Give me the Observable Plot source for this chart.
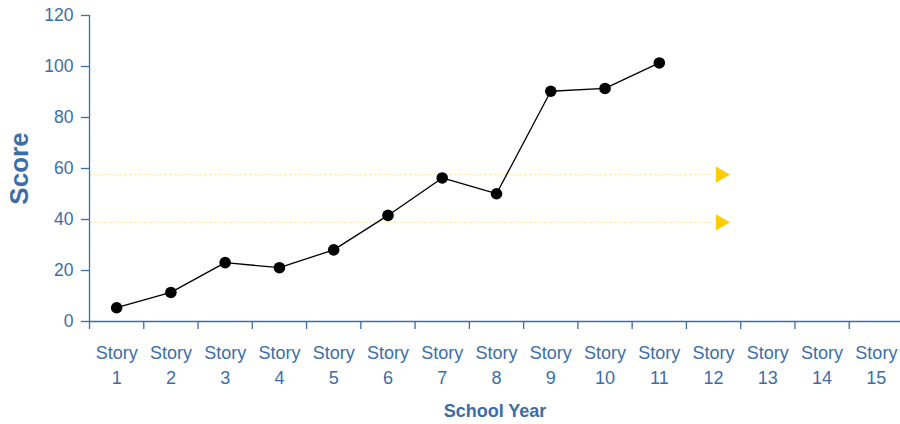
<!DOCTYPE html>
<html>
<head>
<meta charset="utf-8">
<script src="https://cdn.jsdelivr.net/npm/d3@7"></script>
<script src="https://cdn.jsdelivr.net/npm/@observablehq/plot@0.6"></script>
<style>
  html, body { margin: 0; padding: 0; background: #fff; }
  #chart svg { display: block; }
</style>
</head>
<body>
<div id="chart"></div>
<script>
const categories = ["Story 1","Story 2","Story 3","Story 4","Story 5","Story 6","Story 7","Story 8","Story 9","Story 10","Story 11","Story 12","Story 13","Story 14","Story 15"];
const scores = [5.4, 11.4, 23.1, 21.1, 28.1, 41.6, 56.3, 50.1, 90.3, 91.4, 101.4];
const targets = [57.6, 38.9];
const targetStory = 12;
const yTicks = [0, 20, 40, 60, 80, 100, 120];

const blue = "#3b6ea8";
const pts = scores.map((v, i) => ({x: i + 1, y: v}));
const tg = targets.map(v => ({y: v}));
const bandEdges = d3.range(0, categories.length).map(i => i + 0.5);
const centers = categories.map((c, i) => i + 1);

const chart = Plot.plot({
  width: 900,
  height: 424,
  marginLeft: 89,
  marginRight: 0,
  marginTop: 15,
  marginBottom: 103,
  style: {fontFamily: "'Liberation Sans', Arial, sans-serif", background: "#fff"},
  x: {type: "linear", domain: [0.5, categories.length + 0.5], range: [89, 903]},
  y: {type: "linear", domain: [0, 120]},
  marks: [
    Plot.ruleY(tg, {y: "y", x1: 0.5, x2: targetStory, stroke: "#fff0b0", strokeWidth: 1.2, strokeDasharray: "3,2"}),
    Plot.dot(tg, {x: targetStory, y: "y", dx: 7, symbol: "triangle", r: 6, rotate: 90, fill: "#ffcc00", stroke: "none"}),
    Plot.axisY({ticks: yTicks, tickSize: 8, tickPadding: 8, fontSize: 17.5, color: blue, stroke: blue, strokeWidth: 1.3, label: null}),
    Plot.ruleX([0.5], {y1: 0, y2: 120, stroke: blue, strokeWidth: 1.3}),
    Plot.ruleY([0], {stroke: blue, strokeWidth: 1.3}),
    Plot.axisX({ticks: bandEdges, tickSize: 8, tickFormat: () => "", stroke: blue, strokeWidth: 1.3, label: null}),
    Plot.axisX({ticks: centers, tickSize: 0, tickPadding: 19.5, tickFormat: d => categories[d - 1].replace(" ", "\n"), fontSize: 18, lineHeight: 1.4, color: blue, label: null}),
    Plot.line(pts, {x: "x", y: "y", stroke: "#000", strokeWidth: 1.3}),
    Plot.dot(pts, {x: "x", y: "y", r: 5.8, fill: "#000", stroke: "none"}),
    Plot.text(["Score"], {frameAnchor: "left", textAnchor: "middle", lineAnchor: "middle", dx: -70, rotate: -90, fontSize: 26, fontWeight: "bold", fill: blue}),
    Plot.text(["School Year"], {frameAnchor: "bottom", lineAnchor: "middle", dy: 90, fontSize: 18, fontWeight: "bold", fill: blue})
  ]
});
document.getElementById("chart").appendChild(chart);
</script>
</body>
</html>
